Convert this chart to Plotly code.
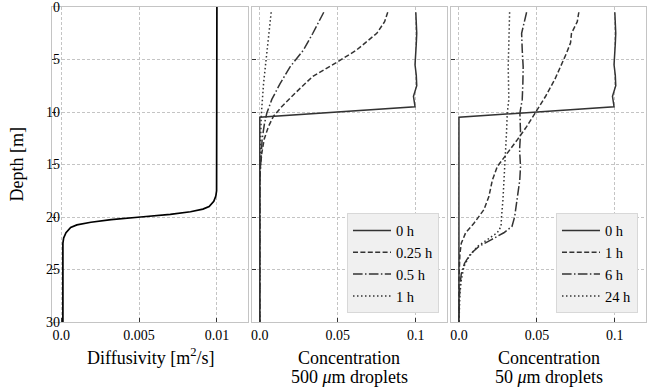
import plotly.graph_objects as go
from plotly.subplots import make_subplots

# diffusivity profile
diff_depth = [0, 17, 17.5, 18, 18.5, 19, 19.25, 19.5, 19.75, 20, 20.25, 20.5, 20.75, 21, 21.5, 22, 22.5, 23, 30]
diff_val = [0.0100, 0.0100, 0.00998, 0.00993, 0.0098, 0.0095, 0.0091, 0.0083, 0.0070, 0.0051,
            0.0032, 0.0019, 0.0010, 0.0006, 0.0003, 0.00015, 0.0001, 0.0001, 0.0001]

# initial condition (same for both droplet sizes)
c0_depth = [0.5, 1.5, 2.5, 3.5, 4.5, 5.5, 6.5, 7.5, 8.5, 9.5, 10.5, 30]
c0_val = [0.100, 0.1005, 0.1006, 0.1003, 0.1000, 0.0995, 0.1003, 0.1006, 0.0985, 0.0995, 0.0, 0.0]

# 500 um droplets
big_025_depth = [0.5, 1.4, 2.5, 4.1, 5.3, 6.6, 8.2, 9.5, 10.4, 11.4, 12.6, 13.9, 15.2, 17, 30]
big_025_val = [0.082, 0.080, 0.075, 0.062, 0.049, 0.034, 0.0227, 0.014, 0.0088, 0.0055, 0.0028, 0.0013, 0.0004, 0.0, 0.0]
big_05_depth = [0.5, 1.5, 2.5, 4.1, 5.7, 7.3, 8.8, 10.1, 11.1, 12.6, 14.6, 16.5, 30]
big_05_val = [0.041, 0.0376, 0.034, 0.028, 0.0194, 0.013, 0.0077, 0.0045, 0.003, 0.0015, 0.0006, 0.0, 0.0]
big_1_depth = [0.5, 4.1, 7.3, 10.4, 13.6, 16, 30]
big_1_val = [0.0073, 0.0045, 0.0024, 0.0009, 0.0002, 0.0, 0.0]

# 50 um droplets
small_1_depth = [0.5, 1.4, 2.5, 3.4, 4.4, 5.7, 6.9, 8.5, 10.1, 11.4, 12.65, 13.9, 15.2, 16.5, 18.05,
                 19.3, 20.6, 21.5, 22.5, 23.5, 24.7, 26, 30]
small_1_val = [0.0769, 0.0759, 0.0722, 0.0716, 0.069, 0.065, 0.0615, 0.0556, 0.0487, 0.0434, 0.0374,
               0.031, 0.0246, 0.0214, 0.0192, 0.016, 0.0096, 0.0043, 0.0015, 0.0006, 0.0002, 0.0, 0.0]
small_6_depth = [0.5, 1.5, 2.5, 4.1, 5.7, 7.25, 8.8, 10.1, 12.0, 13.6, 15.2, 16.5, 18.4, 20.0, 20.9,
                 21.5, 22.2, 22.8, 23.5, 24.4, 25.4, 26.6, 27.9, 29, 30]
small_6_val = [0.0434, 0.0417, 0.0402, 0.0406, 0.0412, 0.041, 0.0406, 0.0391, 0.0395, 0.0389, 0.0395,
               0.039, 0.0374, 0.0357, 0.034, 0.0288, 0.0203, 0.0128, 0.0075, 0.0036, 0.0015, 0.0006,
               0.0002, 0.0, 0.0]
small_24_depth = [0.5, 2.5, 5.7, 8.8, 10.1, 12.0, 13.6, 15.2, 16.8, 18.4, 20.0, 20.9, 21.5, 22.2, 22.8,
                  23.8, 24.7, 26.0, 27.3, 29.2, 30]
small_24_val = [0.0325, 0.032, 0.0316, 0.032, 0.031, 0.0305, 0.030, 0.0295, 0.0288, 0.0282, 0.0273,
                0.027, 0.0246, 0.018, 0.0118, 0.0064, 0.0032, 0.0015, 0.0006, 0.0002, 0.0001]

FONT = "Liberation Serif"
LC = "#333333"
DASHED = "5px,2.4px"
DASHDOT = "9.6px,2.4px,1.5px,2.4px"
DOTTED = "1.5px,2.5px"

fig = make_subplots(rows=1, cols=3, shared_yaxes=True, horizontal_spacing=0.007)

fig.add_trace(go.Scatter(x=diff_val, y=diff_depth, mode="lines", line=dict(color="black", width=1.7),
                         showlegend=False), row=1, col=1)

panel2 = [("0 h", c0_val, c0_depth, "solid"), ("0.25 h", big_025_val, big_025_depth, DASHED),
          ("0.5 h", big_05_val, big_05_depth, DASHDOT), ("1 h", big_1_val, big_1_depth, DOTTED)]
for name, xv, yv, dash in panel2:
    fig.add_trace(go.Scatter(x=xv, y=yv, mode="lines", name=name, legend="legend",
                             line=dict(color=LC, width=1.5, dash=dash)), row=1, col=2)

panel3 = [("0 h", c0_val, c0_depth, "solid"), ("1 h", small_1_val, small_1_depth, DASHED),
          ("6 h", small_6_val, small_6_depth, DASHDOT), ("24 h", small_24_val, small_24_depth, DOTTED)]
for name, xv, yv, dash in panel3:
    fig.add_trace(go.Scatter(x=xv, y=yv, mode="lines", name=name, legend="legend2",
                             line=dict(color=LC, width=1.5, dash=dash)), row=1, col=3)

axis_common = dict(showline=True, mirror=True, linecolor="#c4c4c4", linewidth=1.4,
                   showgrid=True, gridcolor="#c4c4c4", griddash="3px,2px", gridwidth=0.8,
                   ticks="inside", ticklen=4, tickcolor="#333", zeroline=False, automargin=False,
                   ticklabeloverflow="allow",
                   tickfont=dict(family=FONT, size=14, color="black"))

fig.update_xaxes(**axis_common, ticklabelstandoff=0)
fig.update_yaxes(**axis_common, ticklabelstandoff=-12)

fig.update_xaxes(range=[-0.0006, 0.012], tickvals=[0, 0.005, 0.01], ticktext=["0.0", "0.005", "0.01"],
                 domain=[0, 0.33], row=1, col=1)
fig.update_xaxes(range=[-0.005, 0.12], tickvals=[0, 0.05, 0.1], ticktext=["0.0", "0.05", "0.1"],
                 domain=[0.3367, 0.665], row=1, col=2)
fig.update_xaxes(range=[-0.005, 0.12], tickvals=[0, 0.05, 0.1], ticktext=["0.0", "0.05", "0.1"],
                 domain=[0.672, 1.0], row=1, col=3)
fig.update_yaxes(range=[30, 0], tickvals=[0, 5, 10, 15, 20, 25, 30])

# axis titles as annotations (paper coords relative to plot area)
title_font = dict(family=FONT, size=18, color="black")
titles = [
    ("Diffusivity [m<sup>2</sup>/s]", 0.165, -0.111),
    ("Concentration", 0.5008, -0.1143),
    ("500 <i>μ</i>m droplets", 0.5008, -0.1746),
    ("Concentration", 0.836, -0.1143),
    ("50 <i>μ</i>m droplets", 0.836, -0.1746),
]
for txt, tx, ty in titles:
    fig.add_annotation(text=txt, x=tx, y=ty, xref="paper", yref="paper",
                       xanchor="center", yanchor="middle", showarrow=False, font=title_font)
fig.add_annotation(text="Depth [m]", x=-0.059, y=0.5, xref="paper", yref="paper", textangle=-90,
                   xanchor="center", yanchor="middle", showarrow=False, font=title_font)

legend_style = dict(bgcolor="#f0f0f0", bordercolor="#d8d8d8", borderwidth=1,
                    font=dict(family=FONT, size=14.5, color="black"), xanchor="right", yanchor="bottom",
                    itemwidth=38)
fig.update_layout(
    width=664, height=388,
    margin=dict(l=52, r=18, t=7, b=66),
    paper_bgcolor="white", plot_bgcolor="white",
    font=dict(family=FONT, color="black"),
    legend=dict(x=0.6515, y=0.027, **legend_style),
    legend2=dict(x=0.9865, y=0.027, **legend_style),
)

fig.write_html("out.html", config={"displayModeBar": False},
               post_script="document.body.style.margin='0px';")
